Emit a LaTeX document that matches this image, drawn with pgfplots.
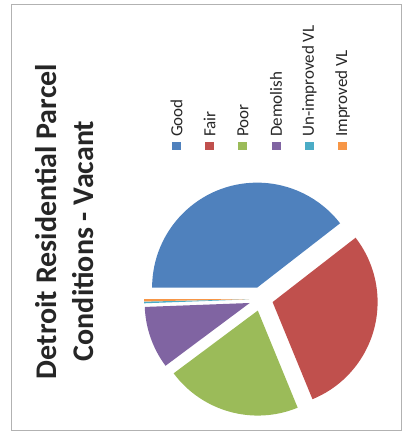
\documentclass[border=0pt]{standalone}
\usepackage{pgfplots}
\usepackage{pgfplotstable}
\pgfplotsset{compat=1.18}
\usepackage{fontspec}
\setmainfont{Carlito}
\definecolor{cGood}{HTML}{4F81BD}
\definecolor{cFair}{HTML}{C0504D}
\definecolor{cPoor}{HTML}{9BBB59}
\definecolor{cDemolish}{HTML}{8064A2}
\definecolor{cUnimp}{HTML}{4BACC6}
\definecolor{cImp}{HTML}{F79646}
\pgfplotstableread[col sep=comma]{
label,value,color
Good,39.5,cGood
Fair,29.3,cFair
Poor,21.0,cPoor
Demolish,9.6,cDemolish
Un-improved VL,0.25,cUnimp
Improved VL,0.35,cImp
}\piedata
\begin{document}
\begin{tikzpicture}
\begin{axis}[
  hide axis, scale only axis, width=406bp, height=441bp,
  xmin=0, xmax=406, ymin=0, ymax=441, clip=false]
\path (axis cs:0,0) rectangle (axis cs:406,441);
\draw[black!30, line width=1bp] (axis cs:11.5,10) rectangle (axis cs:401,436.5);
% title (rotated)
\node[rotate=90, font=\fontsize{30bp}{35bp}\selectfont\bfseries, text=black!85] at (axis cs:46,219.5) {Detroit Residential Parcel};
\node[rotate=90, font=\fontsize{30bp}{35bp}\selectfont\bfseries, text=black!85] at (axis cs:83,200) {Conditions - Vacant};
% pie
\pgfmathsetmacro{\cx}{261}
\pgfmathsetmacro{\cy}{142}
\xdef\angA{180}
\pgfplotstablegetrowsof{\piedata}
\pgfmathtruncatemacro{\nrows}{\pgfplotsretval-1}
\foreach \i in {0,...,\nrows}{
  \pgfplotstablegetelem{\i}{value}\of\piedata
  \pgfmathsetmacro{\angB}{\angA-3.6*\pgfplotsretval}
  \pgfmathsetmacro{\angM}{(\angA+\angB)/2}
  \pgfmathsetmacro{\ox}{\cx+12*cos(\angM)}
  \pgfmathsetmacro{\oy}{\cy+12*sin(\angM)}
  \pgfplotstablegetelem{\i}{color}\of\piedata
  \edef\temp{\noexpand\fill[\pgfplotsretval] (axis cs:\ox,\oy) -- ++(\angA:105bp) arc[start angle=\angA, end angle=\angB, radius=105bp] -- cycle;}
  \temp
  \xdef\angA{\angB}
  % legend entry
  \pgfmathsetmacro{\lx}{176.5+33.2*\i}
  \edef\temp{\noexpand\fill[\pgfplotsretval] (axis cs:\lx-4.5,291) rectangle (axis cs:\lx+4.5,299);}
  \temp
  \pgfplotstablegetelem{\i}{label}\of\piedata
  \edef\temp{\noexpand\node[rotate=90, anchor=west, inner sep=0pt, font=\noexpand\fontsize{17bp}{19bp}\noexpand\selectfont, text=black!85] at (axis cs:\lx,304) {\pgfplotsretval};}
  \temp
}
\end{axis}
\end{tikzpicture}
\end{document}
